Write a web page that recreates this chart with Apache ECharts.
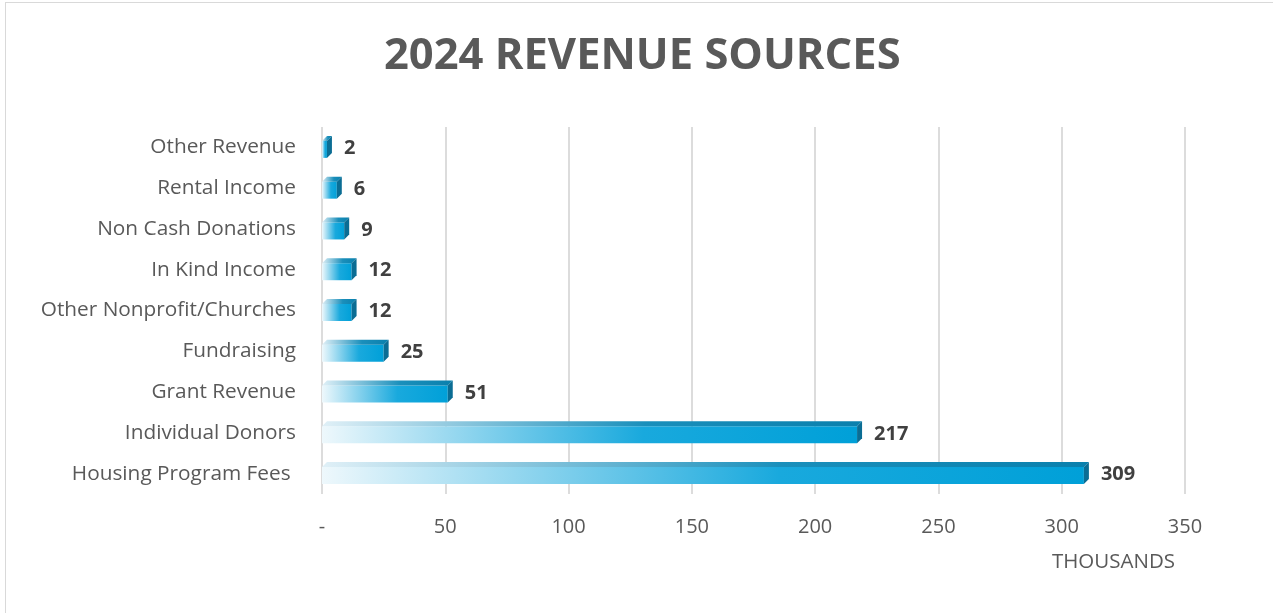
<!DOCTYPE html>
<html>
<head>
<meta charset="utf-8">
<script src="https://cdn.jsdelivr.net/npm/echarts@6/dist/echarts.min.js"></script>
<style>
  html, body { margin: 0; padding: 0; background: #fff; }
  #main { position: absolute; left: 0; top: 0; width: 1273px; height: 613px; }
  #frame { position: absolute; left: 5px; top: 2px; width: 1280px; height: 640px; border: 1px solid #d9d9d9; box-sizing: border-box; }
</style>
</head>
<body>
<div id="frame"></div>
<div id="main"></div>
<script>
// top to bottom
const categories = [
  'Other Revenue', 'Rental Income', 'Non Cash Donations', 'In Kind Income',
  'Other Nonprofit/Churches', 'Fundraising', 'Grant Revenue',
  'Individual Donors', 'Housing Program Fees '
];
const values = [2, 6, 9, 12, 12, 25, 51, 217, 309];
const xTicks = [0, 50, 100, 150, 200, 250, 300, 350];

const FONT = '"Open Sans", sans-serif';
const chart = echarts.init(document.getElementById('main'));

function renderBar(params, api) {
  const idx = api.value(1);
  const start = api.coord([0, idx]);
  const end = api.coord([api.value(0), idx]);
  const barH = 17, d = 5;
  const x0 = start[0], x1 = end[0];
  const yBot = start[1] + barH / 2 + 2;
  const yTop = yBot - barH;
  const w = Math.max(x1 - x0, 1);
  const front = new echarts.graphic.LinearGradient(0, 0, 1, 0, [
    { offset: 0, color: '#eef8fc' },
    { offset: 0.6, color: '#19a9dd' },
    { offset: 1, color: '#00a0d8' }
  ]);
  const top = new echarts.graphic.LinearGradient(0, 0, 1, 0, [
    { offset: 0, color: '#e0f0f7' },
    { offset: 0.6, color: '#1a8fbb' },
    { offset: 1, color: '#0a80ad' }
  ]);
  return {
    type: 'group',
    children: [
      { type: 'rect', shape: { x: x0, y: yTop, width: w, height: barH }, style: { fill: front } },
      { type: 'polygon', shape: { points: [[x0, yTop], [x0 + d, yTop - d], [x1 + d, yTop - d], [x1, yTop]] }, style: { fill: top } },
      { type: 'polygon', shape: { points: [[x1, yTop], [x1 + d, yTop - d], [x1 + d, yBot - d], [x1, yBot]] }, style: { fill: '#0b6d94' } },
      { type: 'text', x: x1 + d + 12, y: (yTop + yBot) / 2 - 1,
        style: { text: String(api.value(0)), font: 'bold 20px ' + FONT, fill: '#404040', verticalAlign: 'middle' } }
    ]
  };
}

chart.setOption({
  animation: false,
  title: {
    text: '2024 REVENUE SOURCES',
    left: 379, top: 30,
    textStyle: { fontFamily: FONT, fontSize: 43.5, fontWeight: 'bold', color: '#595959' }
  },
  grid: { left: 322, right: 88, top: 127, bottom: 119 },
  xAxis: {
    type: 'value', min: 0, max: 350, interval: 50,
    name: 'THOUSANDS', nameLocation: 'end', nameGap: 0,
    nameTextStyle: { fontFamily: FONT, fontSize: 20.5, color: '#595959', align: 'right', verticalAlign: 'top', padding: [58, 10, 0, 0] },
    axisLine: { show: false }, axisTick: { show: false },
    axisLabel: {
      margin: 23, fontFamily: FONT, fontSize: 20, color: '#595959',
      formatter: v => (v === 0 ? '-' : (xTicks.includes(v) ? String(v) : ''))
    },
    splitLine: { lineStyle: { color: '#dcdcdc', width: 2 } }
  },
  yAxis: {
    type: 'category', data: categories, inverse: true,
    axisLine: { show: false }, axisTick: { show: false },
    axisLabel: { margin: 26, fontFamily: FONT, fontSize: 20.8, color: '#595959' }
  },
  series: [{
    type: 'custom',
    renderItem: renderBar,
    encode: { x: 0, y: 1 },
    data: values.map((v, i) => [v, i])
  }]
});
</script>
</body>
</html>
